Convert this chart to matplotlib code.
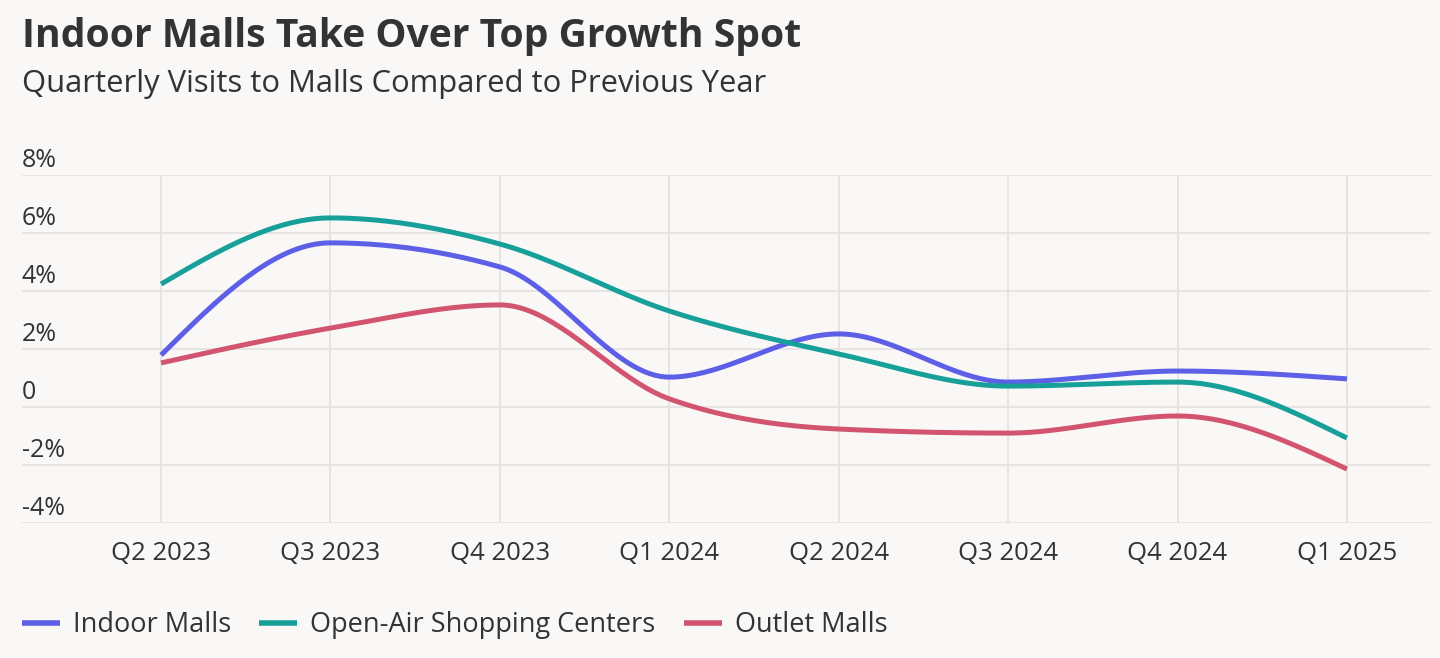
import numpy as np
import matplotlib.pyplot as plt
from matplotlib.transforms import blended_transform_factory, offset_copy

quarters = ['Q2 2023', 'Q3 2023', 'Q4 2023', 'Q1 2024',
            'Q2 2024', 'Q3 2024', 'Q4 2024', 'Q1 2025']
indoor = [1.79, 5.66, 4.83, 1.03, 2.52, 0.86, 1.24, 0.97]
open_air = [4.24, 6.52, 5.62, 3.31, 1.83, 0.72, 0.86, -1.07]
outlet = [1.52, 2.72, 3.52, 0.28, -0.76, -0.90, -0.31, -2.14]
y_ticks = [-4, -2, 0, 2, 4, 6, 8]
y_labels = ['-4%', '-2%', '0', '2%', '4%', '6%', '8%']

series = [('Indoor Malls', indoor, '#5d5fe6'),
          ('Open-Air Shopping Centers', open_air, '#179f99'),
          ('Outlet Malls', outlet, '#d3546f')]


def monotone_x(x, y, n=40):
    # same curve as d3.curveMonotoneX
    x = np.asarray(x, float)
    y = np.asarray(y, float)
    h = np.diff(x)
    s = np.diff(y) / h
    t = np.zeros(len(x))
    for i in range(1, len(x) - 1):
        p = (s[i - 1] * h[i] + s[i] * h[i - 1]) / (h[i - 1] + h[i])
        t[i] = (np.sign(s[i - 1]) + np.sign(s[i])) * min(abs(s[i - 1]), abs(s[i]), 0.5 * abs(p))
    t[0] = (3 * s[0] - t[1]) / 2
    t[-1] = (3 * s[-1] - t[-2]) / 2
    xs, ys = [], []
    for i in range(len(x) - 1):
        u = np.linspace(0, 1, n)
        h00 = 2 * u**3 - 3 * u**2 + 1
        h10 = u**3 - 2 * u**2 + u
        h01 = -2 * u**3 + 3 * u**2
        h11 = u**3 - u**2
        xs.append(x[i] + u * h[i])
        ys.append(h00 * y[i] + h10 * h[i] * t[i] + h01 * y[i + 1] + h11 * h[i] * t[i + 1])
    return np.concatenate(xs), np.concatenate(ys)


plt.rcParams['font.family'] = ['Open Sans', 'DejaVu Sans']
txt = '#333333'
bg = '#f9f8f7'

fig = plt.figure(figsize=(14.4, 6.58), dpi=100, facecolor=bg)
ax = fig.add_axes([22 / 1440, 1 - 523 / 658, 1409 / 1440, 348 / 658])
ax.set_facecolor(bg)

x = np.arange(len(quarters))
for name, vals, col in series:
    cx, cy = monotone_x(x, vals)
    ax.plot(cx, cy, color=col, lw=3.6, label=name, solid_capstyle='butt', zorder=3)

ax.set_xlim(-139 / 169.3, 7 + 84 / 169.3)
ax.set_ylim(-4, 8)
ax.set_xticks(x)
ax.set_xticklabels(quarters, fontsize=18.5, color=txt)
ax.set_yticks(y_ticks)
ax.set_yticklabels([])
ax.tick_params(length=0, pad=13)
ax.tick_params(axis='y', length=0, pad=0)
ax.grid(True, color='#e4e3e2', lw=1.3)
for sp in ax.spines.values():
    sp.set_visible(False)

tr = offset_copy(blended_transform_factory(ax.transAxes, ax.transData), fig=fig, x=0, y=5.5, units='points')
for v, lab in zip(y_ticks, y_labels):
    ax.text(0, v, lab, transform=tr, ha='left', va='baseline', fontsize=18, color=txt)

fig.text(22 / 1440, 1 - 36 / 658, 'Indoor Malls Take Over Top Growth Spot',
         fontsize=28.2, fontweight='bold', color=txt, va='center')
fig.text(22 / 1440, 1 - 84 / 658, 'Quarterly Visits to Malls Compared to Previous Year',
         fontsize=22.3, color=txt, va='center')

leg = fig.legend(loc='center left', bbox_to_anchor=(22 / 1440, 1 - 625 / 658), ncol=3,
                 frameon=False, fontsize=19.5, handlelength=1.4, handletextpad=0.48,
                 columnspacing=1.04, labelcolor=txt, borderpad=0, borderaxespad=0)
for line in leg.get_lines():
    line.set_linewidth(4)
    line.set_solid_capstyle('butt')

fig.savefig('out.png', dpi=100, facecolor=bg)
